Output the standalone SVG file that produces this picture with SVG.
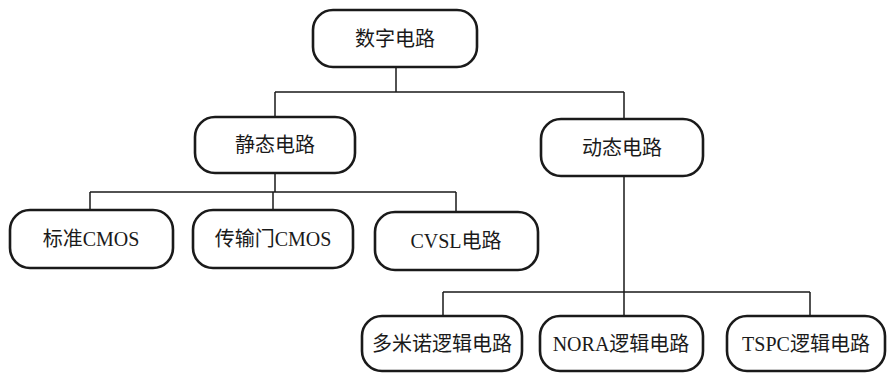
<svg xmlns="http://www.w3.org/2000/svg" width="888" height="373" viewBox="0 0 888 373">
<style>
.box{fill:#fff;stroke:#1a1a1a;stroke-width:2.6}
.t{font-family:"Liberation Serif","Noto Sans CJK SC",serif;font-size:20px;fill:#1a1a1a;text-anchor:middle;dominant-baseline:central}
.c{fill:none;stroke:#1a1a1a;stroke-width:1.5}
</style>
<rect width="888" height="373" fill="#fff"/>
<g id="connectors">
<path class="c" d="M396 67V92M275 92H624M275 92V117M624 92V119"/>
<path class="c" d="M275 173V192M90 192H456M90 192V210M273 192V210M456 192V212"/>
<path class="c" d="M624 176V292M443 292H810M443 292V316M624 292V316M810 292V316"/>
</g>
<g id="n-root"><rect class="box" x="313" y="10" width="164" height="57" rx="20"/><text class="t" x="395" y="39">数字电路</text></g>
<g id="n-static"><rect class="box" x="195" y="117" width="160" height="56" rx="20"/><text class="t" x="275" y="145">静态电路</text></g>
<g id="n-dynamic"><rect class="box" x="541" y="119" width="162" height="57" rx="20"/><text class="t" x="622" y="148">动态电路</text></g>
<g id="n-cmos"><rect class="box" x="10" y="210" width="163" height="58" rx="20"/><text class="t" x="91" y="239">标准CMOS</text></g>
<g id="n-tg"><rect class="box" x="193" y="210" width="160" height="58" rx="20"/><text class="t" x="273" y="239">传输门CMOS</text></g>
<g id="n-cvsl"><rect class="box" x="375" y="212" width="163" height="58" rx="20"/><text class="t" x="456" y="241">CVSL电路</text></g>
<g id="n-domino"><rect class="box" x="362" y="316" width="160" height="55" rx="20"/><text class="t" x="442" y="344">多米诺逻辑电路</text></g>
<g id="n-nora"><rect class="box" x="540" y="316" width="163" height="55" rx="20"/><text class="t" x="621" y="344">NORA逻辑电路</text></g>
<g id="n-tspc"><rect class="box" x="727" y="316" width="158" height="55" rx="20"/><text class="t" x="806" y="344">TSPC逻辑电路</text></g>
</svg>
